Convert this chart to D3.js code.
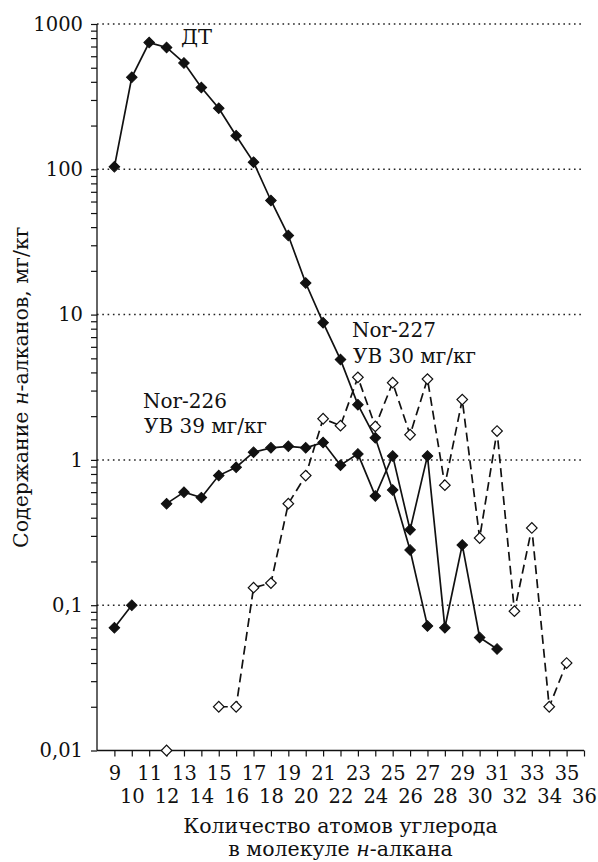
<!DOCTYPE html>
<html>
<head>
<meta charset="utf-8">
<script src="https://cdn.jsdelivr.net/npm/d3@7"></script>
<style>
  html, body { margin: 0; padding: 0; background: #fff; }
  svg { display: block; font-family: "DejaVu Serif", "Liberation Serif", serif; }
</style>
</head>
<body>
<svg id="chart" width="598" height="862"></svg>
<script>
// Carbon numbers of the n-alkanes (x axis)
const carbonNumbers = [9, 10, 11, 12, 13, 14, 15, 16, 17, 18, 19, 20, 21, 22, 23, 24, 25, 26, 27, 28, 29, 30, 31, 32, 33, 34, 35];

// Diesel fuel (ДТ), mg/kg
const dtValues = [104, 430, 745, 690, 540, 365, 263, 170, 112, 61, 35, 16.5, 8.8, 4.9, 2.4, 1.42, 0.62, 0.24, 0.072,
  null, null, null, null, null, null, null, null];

// Sample Nor-226, mg/kg
const nor226Values = [0.07, 0.1, null, 0.5, 0.6, 0.55, 0.78, 0.89, 1.13, 1.21, 1.24, 1.21, 1.32, 0.92, 1.1, 0.565, 1.065, 0.33, 1.065,
  0.07, 0.26, 0.06, 0.05, null, null, null, null];

// Sample Nor-227, mg/kg
const nor227Values = [null, null, null, 0.01, null, null, 0.02, 0.02, 0.132, 0.142, 0.5, 0.78, 1.92, 1.72, 3.7, 1.7, 3.4, 1.49, 3.6,
  0.67, 2.6, 0.29, 1.58, 0.091, 0.34, 0.02, 0.04];

// Axis ticks
const xTickValues = d3.range(9, 37);
const yMajorTicks = [0.01, 0.1, 1, 10, 100, 1000];
const yTickLabels = ["0,01", "0,1", "1", "10", "100", "1000"];
const yGridValues = [0.1, 1, 10, 100, 1000];

const svg = d3.select("#chart");

const x = d3.scaleLinear().domain([8, 36]).range([97, 584]);
const y = d3.scaleLog().domain([0.01, 1000]).range([750.5, 24]);

// Dotted horizontal grid at the decades
svg.append("g")
  .selectAll("line")
  .data(yGridValues)
  .join("line")
  .attr("x1", x(8)).attr("x2", x(36))
  .attr("y1", d => y(d)).attr("y2", d => y(d))
  .attr("stroke", "#222")
  .attr("stroke-width", 1.5)
  .attr("stroke-dasharray", "1.6,3.7");

// Y axis: every log subdivision ticked, labels only at decades
const yAllTicks = [];
for (let e = -2; e < 3; e++) {
  for (let m = 1; m < 10; m++) yAllTicks.push(m * Math.pow(10, e));
}
yAllTicks.push(1000);

const yAxis = d3.axisLeft(y)
  .tickValues(yAllTicks)
  .tickSize(6)
  .tickPadding(8)
  .tickFormat(d => {
    const i = yMajorTicks.findIndex(v => Math.abs(v - d) / d < 1e-6);
    return i >= 0 ? yTickLabels[i] : "";
  });

const gy = svg.append("g")
  .attr("transform", `translate(${x(8)},0)`)
  .call(yAxis);
gy.select(".domain").attr("d", `M-0,${y(1000)}V${y(0.01)}`).attr("stroke", "#111").attr("stroke-width", 1.3);
gy.selectAll(".tick line").attr("stroke", "#111").attr("stroke-width", 1.2);
gy.selectAll(".tick text")
  .attr("font-size", 19.5)
  .attr("font-family", "DejaVu Serif")
  .attr("fill", "#111");

// X axis: odd labels on the first row, even labels on the second
const xAxis = d3.axisBottom(x)
  .tickValues(xTickValues)
  .tickSize(6)
  .tickFormat(d => String(d));

const gx = svg.append("g")
  .attr("transform", `translate(0,${y(0.01)})`)
  .call(xAxis);
gx.select(".domain").attr("d", `M${x(8)},0H${x(36)}`).attr("stroke", "#111").attr("stroke-width", 1.3);
gx.selectAll(".tick line").attr("stroke", "#111").attr("stroke-width", 1.2);
gx.selectAll(".tick text")
  .attr("font-size", 19.5)
  .attr("font-family", "DejaVu Serif")
  .attr("fill", "#111")
  .attr("dy", null)
  .attr("y", d => (d % 2 === 1 ? 29.5 : 52.5));

// Axis titles
svg.append("text")
  .attr("x", (x(8) + x(36)) / 2)
  .attr("y", 833)
  .attr("text-anchor", "middle")
  .attr("font-size", 20.5)
  .attr("fill", "#111")
  .text("Количество атомов углерода");

const xt2 = svg.append("text")
  .attr("x", (x(8) + x(36)) / 2)
  .attr("y", 855.5)
  .attr("text-anchor", "middle")
  .attr("font-size", 20.5)
  .attr("fill", "#111");
xt2.append("tspan").text("в молекуле ");
xt2.append("tspan").attr("font-style", "italic").text("н");
xt2.append("tspan").text("-алкана");

const yt = svg.append("text")
  .attr("transform", `translate(28,${(y(1000) + y(0.01)) / 2}) rotate(-90)`)
  .attr("text-anchor", "middle")
  .attr("font-size", 20.5)
  .attr("fill", "#111");
yt.append("tspan").text("Содержание ");
yt.append("tspan").attr("font-style", "italic").text("н");
yt.append("tspan").text("-алканов, мг/кг");

// Series
const series = [
  { name: "dt", values: dtValues, dash: null, filled: true },
  { name: "nor226", values: nor226Values, dash: null, filled: true },
  { name: "nor227", values: nor227Values, dash: "9,5", filled: false }
];

const line = d3.line()
  .defined(d => d.v != null)
  .x(d => x(d.c))
  .y(d => y(d.v));

const diamond = d3.symbol().type(d3.symbolSquare).size(56);

const toPoints = vals => carbonNumbers.map((c, i) => ({ c, v: vals[i] }));

// Lines first, markers on top
series.forEach(s => {
  svg.append("path")
    .datum(toPoints(s.values))
    .attr("d", line)
    .attr("fill", "none")
    .attr("stroke", "#111")
    .attr("stroke-width", 1.7)
    .attr("stroke-dasharray", s.dash);
});

series.forEach(s => {
  svg.append("g")
    .selectAll("path")
    .data(toPoints(s.values).filter(d => d.v != null))
    .join("path")
    .attr("d", diamond)
    .attr("transform", d => `translate(${x(d.c)},${y(d.v)}) rotate(45)`)
    .attr("fill", s.filled ? "#111" : "#fff")
    .attr("stroke", "#111")
    .attr("stroke-width", s.filled ? 1 : 1.2);
});

// Series annotations
svg.append("text")
  .attr("x", 181)
  .attr("y", 44)
  .attr("font-size", 21)
  .attr("fill", "#111")
  .text("ДТ");

svg.append("text")
  .attr("x", 352)
  .attr("y", 337)
  .attr("font-size", 20)
  .attr("fill", "#111")
  .text("Nor-227");
svg.append("text")
  .attr("x", 353)
  .attr("y", 362.5)
  .attr("font-size", 20)
  .attr("fill", "#111")
  .text("УВ 30 мг/кг");

svg.append("text")
  .attr("x", 143)
  .attr("y", 408)
  .attr("font-size", 20)
  .attr("fill", "#111")
  .text("Nor-226");
svg.append("text")
  .attr("x", 144)
  .attr("y", 433)
  .attr("font-size", 20)
  .attr("fill", "#111")
  .text("УВ 39 мг/кг");
</script>
</body>
</html>
